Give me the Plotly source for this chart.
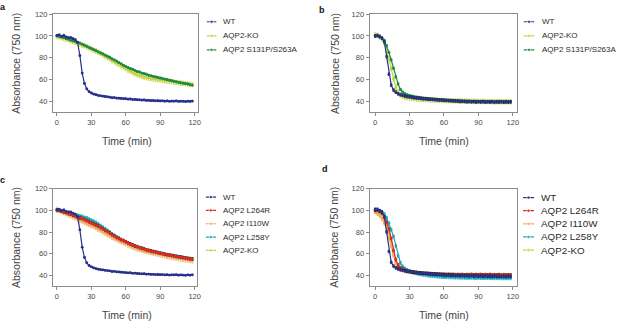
import plotly.graph_objects as go

W, H = 617, 322
FONT = "Liberation Sans"

# sampling times (min)
time_min = list(range(0, 120, 2))

# ---- panel a ----
wt_a = [100.5, 101, 99.5, 100.5, 99, 98.5, 98.5, 97.5, 96.5, 94,
        82, 66, 56.5, 51.5, 49, 47.8, 46.8, 46.2, 45.6, 45.2,
        44.9, 44.6, 44.3, 44.0, 43.4, 43.6, 43.1, 43.0, 42.8, 42.6,
        42.5, 42.2, 42.3, 41.8, 41.9, 41.6, 41.5, 41.3, 41.4, 41.0,
        41.1, 40.8, 40.9, 40.6, 40.7, 40.5, 40.6, 40.3, 40.5, 40.2,
        40.4, 40.3, 40.5, 40.1, 40.3, 40.2, 39.9, 40.3, 40.1, 40.4]
ko_a = [99.5, 99, 98.5, 97.5, 97, 96.5, 95.5, 95, 94, 93.5,
        92.5, 91.5, 91, 90, 89, 88, 87, 86, 85, 84,
        82.5, 81.5, 80, 79, 77.5, 76.5, 75, 74, 72.5, 71.5,
        70, 68.8, 67.6, 66.5, 65.5, 64.5, 63.7, 63, 62.4, 61.9,
        61.4, 61, 60.6, 60.3, 60, 59.7, 59.3, 59, 58.7, 58.4,
        58.1, 57.8, 57.5, 57.2, 56.9, 56.6, 56.3, 56, 55.7, 55.4]
s131p_a = [100, 99.5, 99, 98.5, 97.5, 97, 96, 95.5, 95, 94,
           93.5, 92.5, 91.5, 90.5, 89.5, 88.5, 87.5, 86.5, 85.5, 84.5,
           83.5, 82.5, 81.5, 80.5, 79, 78, 77, 75.5, 74.5, 73,
           72, 71, 70, 69.5, 68.5, 67.5, 67, 66, 65.5, 65,
           64, 63.5, 63, 62.5, 62, 61.5, 61, 60.5, 60, 59.5,
           59, 58.5, 58, 57.5, 57, 56.8, 56.3, 56, 55.5, 55]

# ---- panel b ----
wt_b = [100, 100.5, 99.5, 98, 94.5, 81, 65, 55, 50.5, 48.5,
        47, 46.2, 45.6, 45, 44.5, 44.2, 43.8, 43.5, 43.2, 43,
        42.8, 42.5, 42.4, 42.2, 42, 41.9, 41.7, 41.6, 41.4, 41.3,
        41.1, 41, 40.8, 40.7, 40.6, 40.4, 40.3, 40.1, 40.2, 40,
        39.8, 40, 39.7, 39.9, 39.5, 39.8, 39.6, 39.9, 39.4, 39.7,
        39.5, 39.8, 39.3, 39.7, 39.5, 39.8, 39.4, 39.7, 39.5, 39.6]
ko_b = [101, 100.5, 99, 97, 93.5, 87, 79, 70, 60.5, 53,
        48.5, 46, 44.8, 44, 43.5, 43.2, 42.8, 42.6, 42.3, 42.1,
        42.0, 41.8, 41.7, 41.6, 41.5, 41.4, 41.3, 41.2, 41.1, 41.0,
        40.9, 40.8, 40.8, 40.7, 40.6, 40.6, 40.5, 40.4, 40.4, 40.3,
        40.3, 40.2, 40.2, 40.1, 40.1, 40.0, 40.1, 40.0, 39.9, 40.0,
        39.9, 39.9, 39.8, 39.9, 39.8, 39.8, 39.7, 39.8, 39.7, 39.8]
s131p_b = [100, 100, 99, 98, 96, 91, 85, 78, 70.5, 62.5,
           56, 51, 48.5, 47, 46, 45.3, 44.8, 44.4, 44.0, 43.7,
           43.4, 43.1, 42.9, 42.6, 42.4, 42.2, 42.0, 41.8, 41.6, 41.5,
           41.3, 41.2, 41.0, 40.9, 40.8, 40.7, 40.6, 40.5, 40.4, 40.4,
           40.3, 40.2, 40.2, 40.1, 40.1, 40.0, 40.0, 39.9, 40.0, 39.9,
           39.9, 39.8, 39.9, 39.8, 39.8, 39.7, 39.8, 39.7, 39.7, 39.8]

# ---- panel c (WT and AQP2-KO controls are the panel a series) ----
l264r_c = [100.5, 100, 99.5, 98.5, 98, 97, 96.5, 95.5, 95, 94,
           93, 92.5, 91.5, 90.5, 89.5, 88.5, 87.5, 86.5, 85.5, 84,
           83, 81.5, 80.5, 79, 77.5, 76.5, 75, 74, 73, 72,
           71, 70, 69, 68, 67, 66.5, 65.5, 65, 64.5, 63.5,
           63, 62.5, 62, 61.5, 61, 60.5, 60, 59.5, 59, 58.8,
           58.3, 58, 57.5, 57, 56.8, 56.3, 56, 55.5, 55.3, 55]
i110w_c = [101, 100, 99, 98, 97, 96, 95, 94, 93, 92,
           91, 90, 89, 88, 87, 86, 85, 84, 82.5, 81.5,
           80, 79, 77.5, 76.5, 75, 74, 73, 72, 71, 70,
           69, 68, 67, 66, 65.3, 64.5, 64, 63.3, 62.5, 62,
           61.5, 61, 60.5, 60, 59.5, 59, 58.5, 58, 57.5, 57,
           56.5, 56.2, 55.8, 55.5, 55, 54.7, 54.3, 54, 53.6, 53.3]
l258y_c = [100, 100, 99.5, 99, 98.5, 98, 97, 96.5, 96, 95.5,
           95, 94.5, 93.5, 93, 92, 91, 90, 89, 87.5, 86,
           84.5, 83, 81.5, 80, 78.5, 77, 75.5, 74.5, 73, 72,
           71, 70, 69, 68, 67, 66.5, 65.5, 65, 64.3, 63.5,
           63, 62.5, 62, 61.5, 61, 60.5, 60, 59.5, 59, 58.7,
           58.3, 58, 57.5, 57.2, 56.8, 56.5, 56, 55.7, 55.3, 55]

# ---- panel d ----
wt_d = [100.5, 101, 99.5, 98.5, 94, 80, 62, 52, 48.5, 46.8,
        45.8, 45, 44.5, 44, 43.6, 43.3, 43, 42.8, 42.5, 42.3,
        42, 41.8, 41.7, 41.5, 41.3, 41.2, 41, 40.8, 40.7, 40.5,
        40.4, 40.2, 40.3, 40, 40.1, 39.8, 40, 39.7, 39.9, 39.5,
        39.8, 39.4, 39.7, 39.3, 39.6, 39.2, 39.5, 39.1, 39.4, 39,
        39.3, 39, 39.2, 38.9, 39.1, 38.8, 39, 38.7, 39, 38.8]
l264r_d = [100, 100, 99, 97.5, 94, 89, 83, 74, 63, 54.5,
           49.5, 47, 45.5, 44.6, 44, 43.5, 43.1, 42.8, 42.5, 42.3,
           42.1, 41.9, 41.8, 41.6, 41.5, 41.4, 41.2, 41.1, 41.0, 40.9,
           40.8, 40.7, 40.8, 40.6, 40.7, 40.5, 40.6, 40.5, 40.7, 40.4,
           40.6, 40.5, 40.8, 40.4, 40.6, 40.5, 40.7, 40.3, 40.6, 40.4,
           40.7, 40.3, 40.5, 40.4, 40.6, 40.2, 40.5, 40.3, 40.4, 40.3]
i110w_d = [98.5, 97, 95, 92, 88, 82, 75, 67, 58, 51,
           47.5, 45.8, 44.8, 44.2, 43.6, 43.2, 42.8, 42.5, 42.2, 42.0,
           41.8, 41.6, 41.4, 41.3, 41.1, 41.0, 40.9, 40.8, 40.7, 40.6,
           40.5, 40.4, 40.4, 40.3, 40.2, 40.2, 40.1, 40.1, 40.0, 40.0,
           39.9, 40.0, 39.9, 39.9, 39.8, 39.9, 39.8, 39.8, 39.7, 39.8,
           39.7, 39.7, 39.6, 39.7, 39.6, 39.7, 39.6, 39.6, 39.5, 39.6]
l258y_d = [101, 100.5, 99.5, 98.5, 96.5, 93, 88, 82, 76, 67,
           58, 51.5, 48, 46, 44.8, 43.8, 43.0, 42.3, 41.8, 41.3,
           40.9, 40.5, 40.2, 39.9, 39.6, 39.4, 39.2, 39.0, 38.8, 38.6,
           38.5, 38.4, 38.3, 38.2, 38.1, 38.0, 38.0, 37.9, 37.9, 37.8,
           37.8, 37.7, 37.8, 37.7, 37.6, 37.7, 37.6, 37.6, 37.5, 37.6,
           37.5, 37.5, 37.4, 37.5, 37.4, 37.4, 37.3, 37.4, 37.3, 37.3]
ko_d = [99, 98.5, 97, 95, 91.5, 86, 79, 70, 60, 52.5,
        48.5, 46.3, 45, 44.3, 43.7, 43.3, 42.9, 42.6, 42.3, 42.1,
        41.9, 41.7, 41.5, 41.4, 41.2, 41.1, 41.0, 40.9, 40.8, 40.7,
        40.6, 40.5, 40.5, 40.4, 40.3, 40.3, 40.2, 40.2, 40.1, 40.1,
        40.0, 40.1, 40.0, 40.0, 39.9, 40.0, 39.9, 39.9, 39.8, 39.9,
        39.8, 39.8, 39.8, 39.7, 39.8, 39.7, 39.7, 39.7, 39.6, 39.7]

# tick labels
x_ticks = [0, 30, 60, 90, 120]
y_ticks = [40, 60, 80, 100, 120]

# series colours
C_WT = "#27318b"
C_KO = "#c8d23c"
C_S131P = "#1f8a45"
C_L264R = "#e2261f"
C_I110W = "#f6a862"
C_L258Y = "#1ba7b6"

# panel frames in pixels: plot edges and the pixel of t = 0
PX_PER_MIN = 1.155
PANELS = {
    "a": dict(left=53.3, right=199.5, top=10.2, bottom=109.8, t0=57.3),
    "b": dict(left=372.0, right=520.0, top=10.2, bottom=109.8, t0=377.6),
    "c": dict(left=53.3, right=198.0, top=187.1, bottom=285.6, t0=57.3),
    "d": dict(left=372.0, right=520.0, top=187.1, bottom=285.6, t0=377.6),
}

# (name, values, colour, error half-width, error colour), drawn bottom to top
SERIES = {
    "a": [("AQP2-KO", ko_a, C_KO, 2.0, C_KO),
          ("AQP2 S131P/S263A", s131p_a, C_S131P, 0.7, C_S131P),
          ("WT", wt_a, C_WT, 0.6, C_WT)],
    "b": [("AQP2-KO", ko_b, C_KO, 2.0, C_KO),
          ("AQP2 S131P/S263A", s131p_b, C_S131P, 1.0, C_S131P),
          ("WT", wt_b, C_WT, 1.2, "#14183f")],
    "c": [("AQP2-KO", ko_a, C_KO, 1.0, C_KO),
          ("AQP2 L258Y", l258y_c, C_L258Y, 1.2, C_L258Y),
          ("AQP2 I110W", i110w_c, C_I110W, 2.0, C_I110W),
          ("AQP2 L264R", l264r_c, C_L264R, 1.2, "#2a1212"),
          ("WT", wt_a, C_WT, 0.5, C_WT)],
    "d": [("AQP2-KO", ko_d, C_KO, 1.5, C_KO),
          ("AQP2 I110W", i110w_d, C_I110W, 1.5, C_I110W),
          ("AQP2 L258Y", l258y_d, C_L258Y, 1.5, C_L258Y),
          ("AQP2 L264R", l264r_d, C_L264R, 1.2, "#2a1212"),
          ("WT", wt_d, C_WT, 1.2, "#14183f")],
}

LEGENDS = {
    "a": dict(names=["WT", "AQP2-KO", "AQP2 S131P/S263A"],
              colors=[C_WT, C_KO, C_S131P],
              x0=208.0, x1=218.0, text_x=222.7, y_first=18.0, step=14.2, size=8),
    "b": dict(names=["WT", "AQP2-KO", "AQP2 S131P/S263A"],
              colors=[C_WT, C_KO, C_S131P],
              x0=527.0, x1=538.0, text_x=543.0, y_first=18.0, step=14.2, size=8),
    "c": dict(names=["WT", "AQP2 L264R", "AQP2 I110W", "AQP2 L258Y", "AQP2-KO"],
              colors=[C_WT, C_L264R, C_I110W, C_L258Y, C_KO],
              x0=207.0, x1=217.5, text_x=222.7, y_first=195.5, step=13.5, size=8),
    "d": dict(names=["WT", "AQP2 L264R", "AQP2 I110W", "AQP2 L258Y", "AQP2-KO"],
              colors=[C_WT, C_L264R, C_I110W, C_L258Y, C_KO],
              x0=526.5, x1=537.5, text_x=542.5, y_first=196.0, step=13.3, size=9.8),
}

PANEL_LABELS = {"a": (3.0, 3.5), "b": (324.0, 6.0), "c": (3.0, 178.5), "d": (327.0, 167.0)}
X_TITLE_POS = {"a": (127.5, 138.3), "b": (447.0, 139.0), "c": (127.5, 315.0), "d": (447.0, 315.0)}
Y_TITLE_POS = {"a": 16.7, "b": 337.0, "c": 16.7, "d": 336.5}


def fx(p):
    return p / W


def fy(p):
    return 1 - p / H


fig = go.Figure()
layout = dict(
    width=W, height=H, margin=dict(l=0, r=0, t=0, b=0),
    paper_bgcolor="white", plot_bgcolor="white", showlegend=False,
    font=dict(family=FONT, color="#444444"),
)
annotations = []

axis_style = dict(showline=True, linecolor="#8c8c8c", linewidth=1, mirror=True,
                  ticks="outside", ticklen=3, tickwidth=1, tickcolor="#8c8c8c",
                  showgrid=False, zeroline=False,
                  tickfont=dict(family=FONT, size=7.5, color="#4a4a4a"))

for k, key in enumerate(["a", "b", "c", "d"]):
    p = PANELS[key]
    n = k + 1
    xa, ya = ("xaxis" if n == 1 else f"xaxis{n}"), ("yaxis" if n == 1 else f"yaxis{n}")
    xr, yr = ("x" if n == 1 else f"x{n}"), ("y" if n == 1 else f"y{n}")
    layout[xa] = dict(axis_style, domain=[fx(p["left"]), fx(p["right"])], anchor=yr,
                      range=[(p["left"] - p["t0"]) / PX_PER_MIN, (p["right"] - p["t0"]) / PX_PER_MIN],
                      tickvals=x_ticks, ticktext=[str(v) for v in x_ticks])
    layout[ya] = dict(axis_style, domain=[fy(p["bottom"]), fy(p["top"])], anchor=xr,
                      range=[30, 120], tickvals=y_ticks, ticktext=[str(v) for v in y_ticks])

    for name, vals, col, err, ecol in SERIES[key]:
        fig.add_trace(go.Scatter(
            x=time_min, y=vals, name=name, mode="lines+markers", xaxis=xr, yaxis=yr,
            line=dict(color=col, width=1.2), marker=dict(color=col, size=2.8),
            error_y=dict(type="constant", value=err, color=ecol, thickness=0.8, width=1),
        ))

    # legend block on its own hidden axes
    lg = LEGENDS[key]
    m = n + 4
    lxa, lya, lxr, lyr = f"xaxis{m}", f"yaxis{m}", f"x{m}", f"y{m}"
    rows = len(lg["names"])
    top = lg["y_first"] - lg["step"] / 2
    bot = top + rows * lg["step"]
    layout[lxa] = dict(domain=[fx(lg["x0"]), fx(lg["x1"])], range=[0, 1], visible=False,
                       anchor=lyr, fixedrange=True)
    layout[lya] = dict(domain=[fy(bot), fy(top)], range=[rows - 0.5, -0.5], visible=False,
                       anchor=lxr, fixedrange=True)
    for i, (name, col) in enumerate(zip(lg["names"], lg["colors"])):
        fig.add_trace(go.Scatter(
            x=[0, 0.5, 1], y=[i, i, i], mode="lines+markers", xaxis=lxr, yaxis=lyr,
            line=dict(color=col, width=1.2), marker=dict(color=col, size=[0, 3.5, 0]),
            hoverinfo="skip", cliponaxis=False,
        ))
        annotations.append(dict(
            text=name, x=1, y=i, xref=lxr, yref=lyr, xanchor="left", yanchor="middle",
            xshift=lg["text_x"] - lg["x1"], showarrow=False,
            font=dict(family=FONT, size=lg["size"], color="#2b2b2b"),
        ))

    # axis titles
    tx, ty = X_TITLE_POS[key]
    annotations.append(dict(text="Time (min)", x=fx(tx), y=fy(ty), xref="paper", yref="paper",
                            xanchor="center", yanchor="middle", showarrow=False,
                            font=dict(family=FONT, size=10.5, color="#444444")))
    annotations.append(dict(text="Absorbance (750 nm)", x=fx(Y_TITLE_POS[key]),
                            y=fy((p["top"] + p["bottom"]) / 2), xref="paper", yref="paper",
                            xanchor="center", yanchor="middle", textangle=-90, showarrow=False,
                            font=dict(family=FONT, size=10.5, color="#444444")))

    # panel letter
    lx, ly = PANEL_LABELS[key]
    annotations.append(dict(text=f"<b>{key}</b>", x=fx(lx), y=fy(ly), xref="paper", yref="paper",
                            xanchor="center", yanchor="middle", showarrow=False,
                            font=dict(family=FONT, size=9, color="#111111")))

layout["annotations"] = annotations
fig.update_layout(**layout)
fig.write_html("out.html")
